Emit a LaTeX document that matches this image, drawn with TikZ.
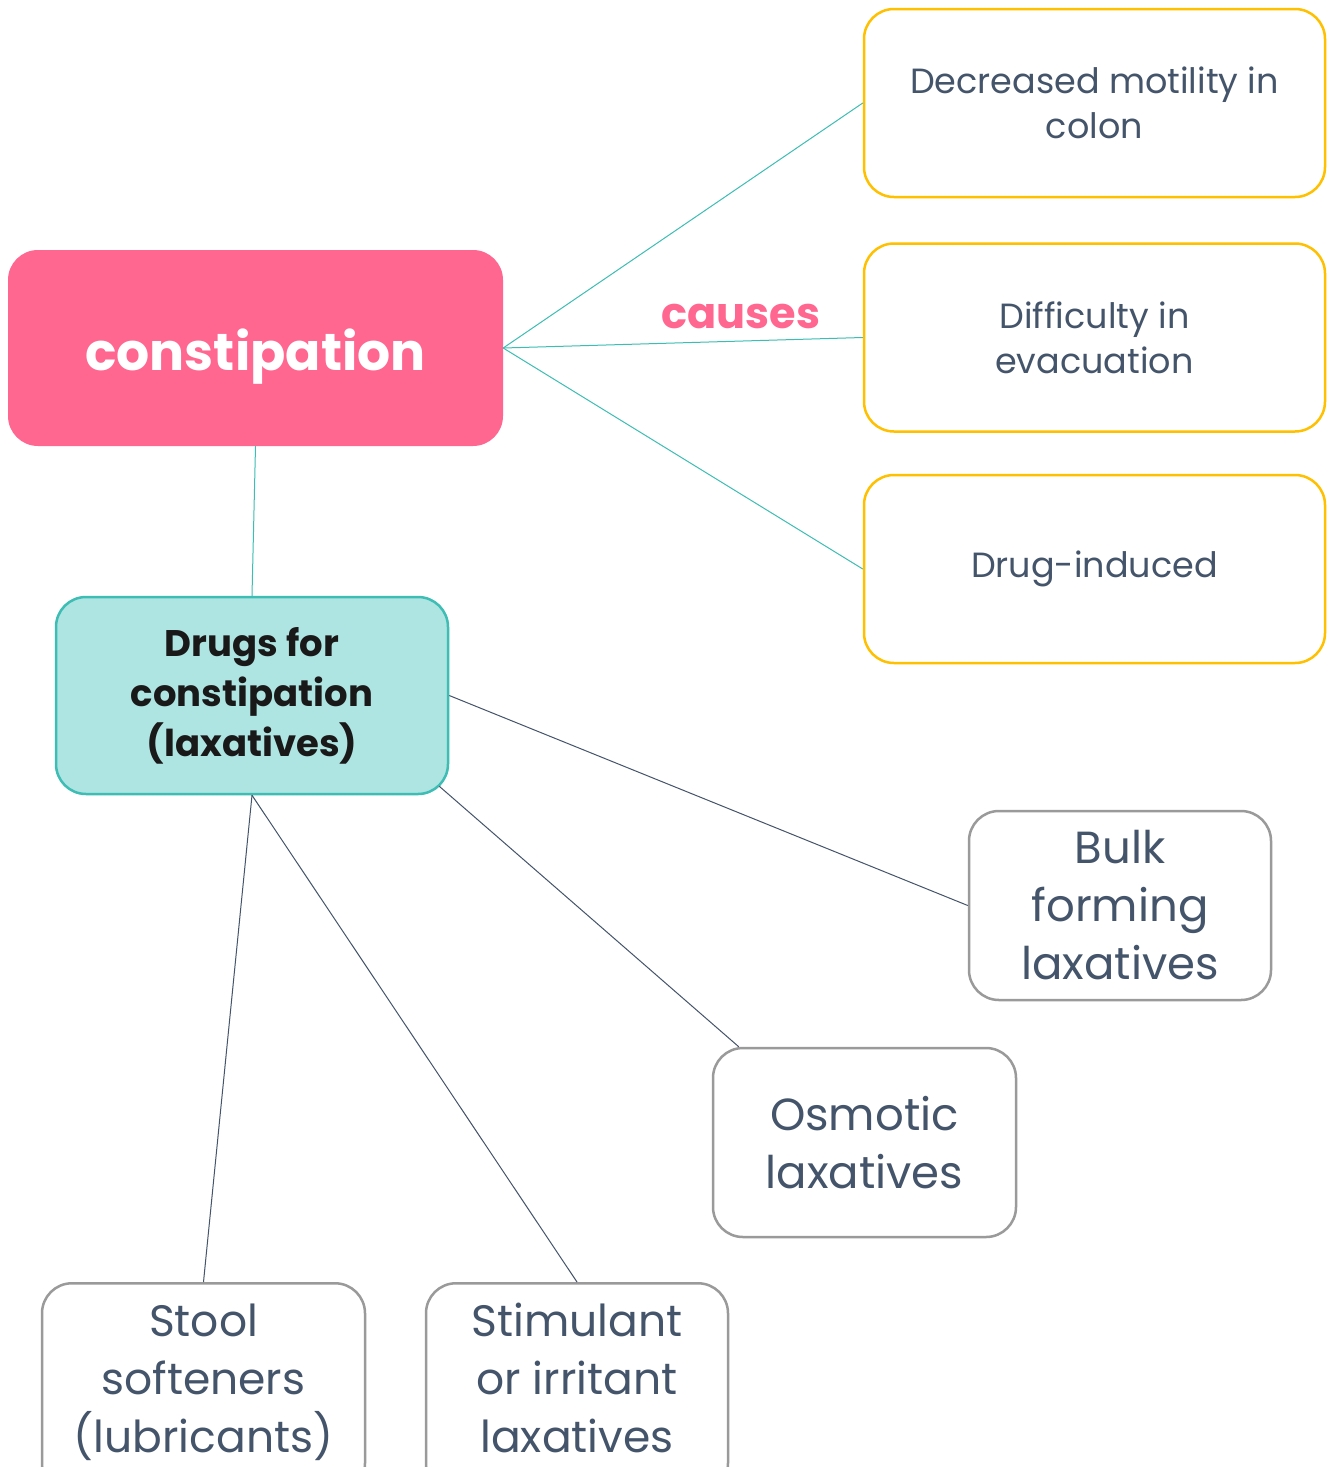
\documentclass[tikz,border=0pt]{standalone}
\usepackage{fontspec}
\setmainfont{Poppins}
\definecolor{pinkc}{HTML}{FF6690}
\definecolor{tealf}{HTML}{AEE4E1}
\definecolor{teald}{HTML}{3DBDB4}
\definecolor{yel}{HTML}{FFC000}
\definecolor{slate}{HTML}{44546A}
\definecolor{grayb}{HTML}{9A9A9A}
\begin{document}
\begin{tikzpicture}[x=1pt,y=-1pt,
  box/.style={rounded corners=30pt, inner sep=0pt, align=center},
  causebox/.style={box, draw=yel, line width=2.5pt, fill=white, minimum width=461pt, minimum height=188pt,
     text=slate, font=\fontsize{35}{45}\selectfont},
  drugbox/.style={box, draw=grayb, line width=2.5pt, fill=white, text=slate, font=\fontsize{45}{58}\selectfont},
  drugtxt/.style={text=slate, font=\fontsize{44}{58}\selectfont, align=center, inner sep=0pt, anchor=base},
  tealline/.style={draw=teald, line width=1pt},
  slateline/.style={draw=slate, line width=1pt}]
\clip (0,0) rectangle (1333,1467);
\fill[white] (0,0) rectangle (1333,1467);
% main nodes
\node[box, fill=pinkc, minimum width=495pt, minimum height=196pt, text=white,
      font=\bfseries\fontsize{52}{60}\selectfont] (con) at (255.5,348) {\raisebox{-22pt}[0pt][0pt]{constipation}};
\node[box, fill=tealf, draw=teald, line width=2.5pt, minimum width=392pt, minimum height=197pt,
      text=black!90, font=\bfseries\fontsize{37}{50}\selectfont] (drugs) at (252,695.5)
      {Drugs for\\constipation\\(laxatives)};
% causes
\node[causebox] (c1) at (1094.5,103) {Decreased motility in\\colon};
\node[causebox] (c2) at (1094.5,337.5) {Difficulty in\\evacuation};
\node[causebox] (c3) at (1094.5,569) {Drug-induced};
% drug classes
\node[drugbox, minimum width=302pt, minimum height=189pt] (bulk) at (1120,905.5) {Bulk\\forming\\laxatives};
\node[drugbox, minimum width=303pt, minimum height=189pt] (osm) at (864.5,1142.5) {Osmotic\\laxatives};
\node[drugbox, minimum width=323pt, minimum height=210pt, anchor=north] (stool) at (203.5,1282) {};
\node[drugbox, minimum width=302pt, minimum height=210pt, anchor=north] (stim) at (577,1282) {};
\node[drugtxt] (stooltxt) at (203.5,1452) {Stool\\softeners\\(lubricants)};
\node[drugtxt] (stimtxt) at (577,1452) {Stimulant\\or irritant\\laxatives};
% label
\node[text=pinkc, font=\bfseries\fontsize{43}{50}\selectfont] (lab) at (741,316) {causes};
% connectors
\coordinate (dse) at ([xshift=-10pt,yshift=9pt]drugs.south east);
\coordinate (osmt) at ([xshift=27pt]osm.north west);
\draw[tealline] (con.east) -- (c1.west);
\draw[tealline] (con.east) -- (c2.west);
\draw[tealline] (con.east) -- (c3.west);
\draw[tealline] (con.south) -- (drugs.north);
\draw[slateline] (drugs.east) -- (bulk.west);
\draw[slateline] (dse) -- (osmt);
\draw[slateline] (drugs.south) -- (stool.north);
\draw[slateline] (drugs.south) -- (stim.north);
\end{tikzpicture}
\end{document}
